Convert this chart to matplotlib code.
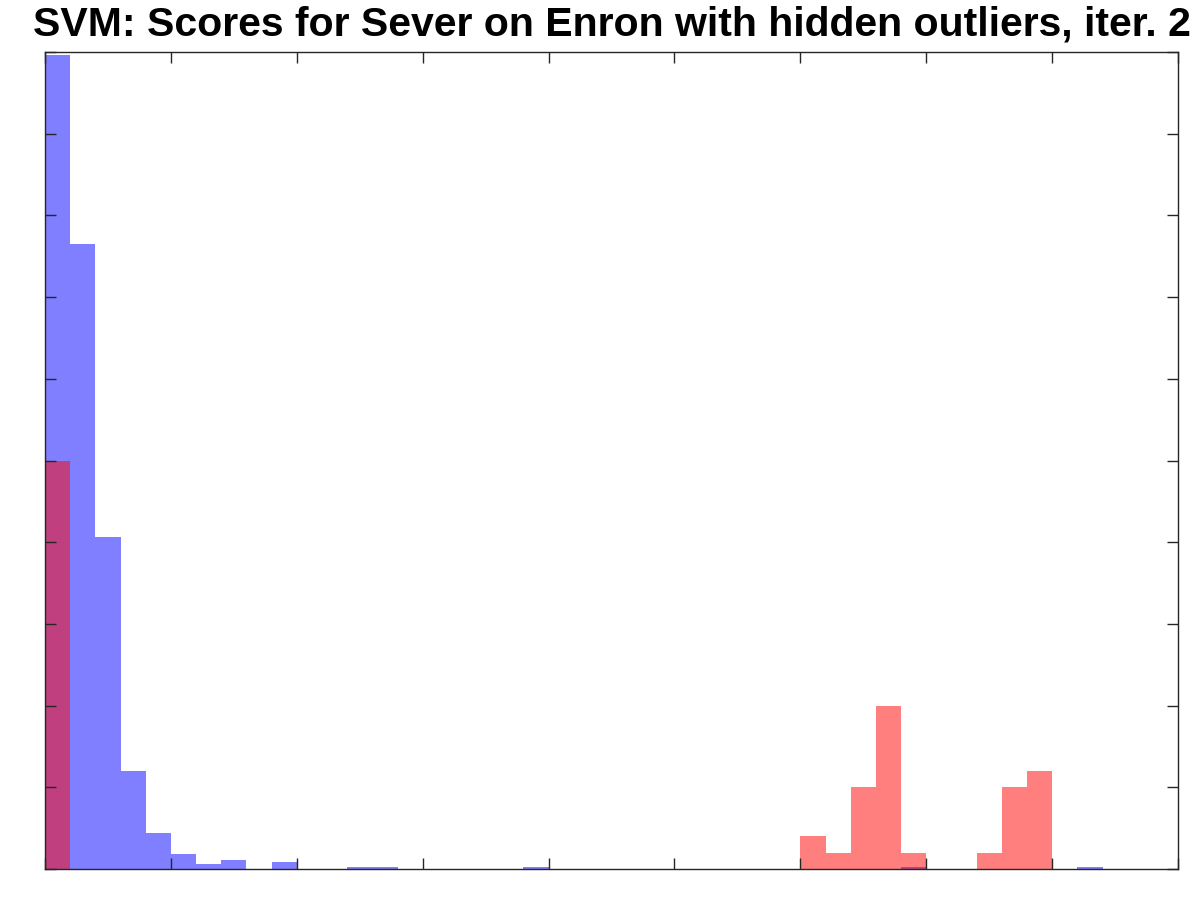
import matplotlib
matplotlib.use('Agg')
import matplotlib.pyplot as plt
import numpy as np

# bin edges (45 bins of width 0.2)
bin_edges = np.round(np.arange(0, 9.0001, 0.2), 2)

# normal points (blue) per bin
normal_counts = [9.96, 7.65, 4.06, 1.20, 0.44, 0.18, 0.065, 0.11, 0, 0.085,
                 0, 0, 0.025, 0.025, 0, 0, 0, 0, 0, 0.02,
                 0, 0, 0, 0, 0, 0, 0, 0, 0, 0,
                 0, 0, 0, 0, 0.02, 0, 0, 0, 0, 0,
                 0, 0.02, 0, 0, 0]

# hidden outliers (red) per bin
outlier_counts = [5.0, 0, 0, 0, 0, 0, 0, 0, 0, 0,
                  0, 0, 0, 0, 0, 0, 0, 0, 0, 0,
                  0, 0, 0, 0, 0, 0, 0, 0, 0, 0,
                  0.4, 0.2, 1.0, 2.0, 0.2, 0, 0, 0.2, 1.0, 1.2,
                  0, 0, 0, 0, 0]

title = 'SVM: Scores for Sever on Enron with hidden outliers, iter. 2'

plt.rcParams['font.family'] = ['Liberation Sans', 'DejaVu Sans']

fig = plt.figure(figsize=(12, 9), dpi=100)
ax = fig.add_axes([0.0375, 0.0344, 0.9442, 0.9078])

left = bin_edges[:-1]
width = np.diff(bin_edges)
ax.bar(left, normal_counts, width=width, align='edge', color='blue', alpha=0.5, linewidth=0)
ax.bar(left, outlier_counts, width=width, align='edge', color='red', alpha=0.5, linewidth=0)

ax.set_xlim(0, 9)
ax.set_ylim(0, 10)
ax.set_xticks(np.arange(0, 10, 1))
ax.set_yticks(np.arange(0, 11, 1))
ax.tick_params(direction='in', length=8, width=1, top=True, right=True,
               labelbottom=False, labelleft=False, color='#262626')
for s in ax.spines.values():
    s.set_linewidth(1)
    s.set_color('#262626')

# title, baseline around y=36 px from the top
fig.text(0.51, 1 - 36 / 900, title, fontsize=29.5, fontweight='bold',
         ha='center', va='baseline')

fig.savefig('out.png', dpi=100)
